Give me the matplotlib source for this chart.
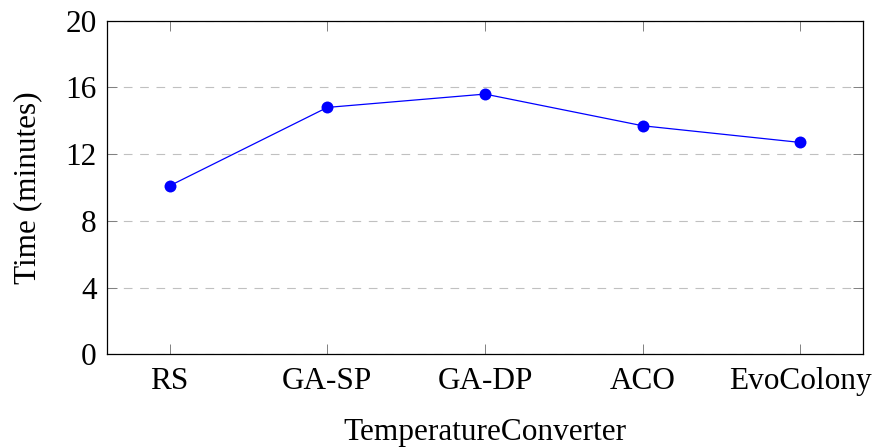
import matplotlib
matplotlib.use("Agg")
import matplotlib.pyplot as plt

# Run time per search strategy on the TemperatureConverter subject
methods = ["RS", "GA-SP", "GA-DP", "ACO", "EvoColony"]
minutes = [10.1, 14.8, 15.6, 13.7, 12.7]
y_ticks = [0, 4, 8, 12, 16, 20]

plt.rcParams["font.family"] = ["Liberation Serif", "DejaVu Serif"]
plt.rcParams["mathtext.fontset"] = "stix"

fig = plt.figure(figsize=(8.76, 4.48), dpi=100)
ax = fig.add_axes([0.1216, 0.2092, 0.8641, 0.7446])

x = list(range(len(methods)))
ax.plot(x, minutes, color="#0000ff", lw=0.9, marker="o", ms=8.6,
        markeredgewidth=0, zorder=3)

ax.set_xlim(-0.4, 4.4)
ax.set_ylim(0, 20)
ax.set_xticks(x)
ax.set_xticklabels(methods)
ax.set_yticks(y_ticks)
ax.set_yticklabels([str(v) for v in y_ticks])

ax.yaxis.grid(True, color="#c0c0c0", linestyle=(0, (7.8, 6.9)), lw=0.8)
ax.set_axisbelow(True)

ax.tick_params(axis="both", direction="in", length=7.2, width=0.7,
               color="#808080", labelsize=22.5, top=True, right=True)
ax.tick_params(axis="x", pad=9)
ax.tick_params(axis="y", pad=7)

for s in ax.spines.values():
    s.set_linewidth(0.9)
    s.set_color("black")

ax.set_xlabel("TemperatureConverter", fontsize=22.5, labelpad=16)
ax.set_ylabel("Time (minutes)", fontsize=22.5, labelpad=17)

fig.savefig("out.png", dpi=100)
